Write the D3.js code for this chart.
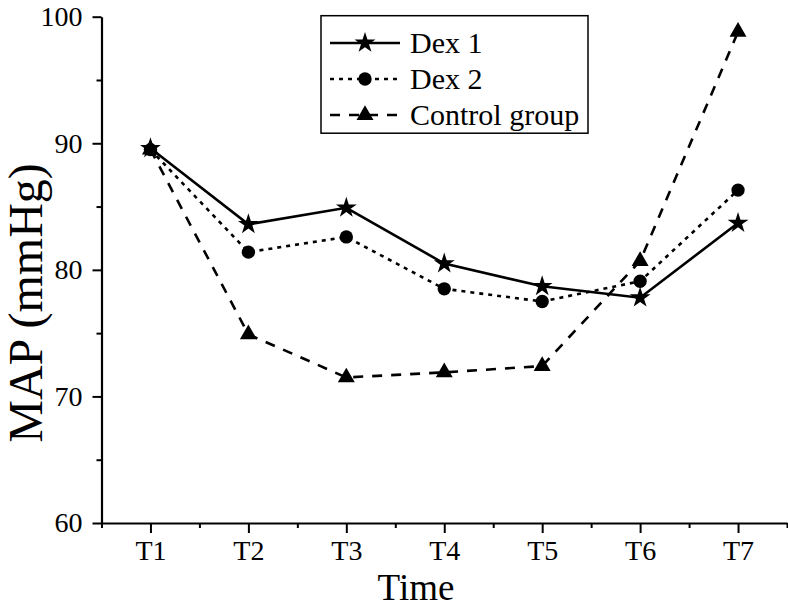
<!DOCTYPE html>
<html>
<head>
<meta charset="utf-8">
<script src="https://cdn.jsdelivr.net/npm/d3@7"></script>
<style>
html,body{margin:0;padding:0;background:#fff;}
svg{display:block;font-family:"Liberation Serif","Times New Roman",serif;}
</style>
</head>
<body>
<svg id="chart" width="788" height="611"></svg>
<script>
const categories = ["T1","T2","T3","T4","T5","T6","T7"];
const dex1 = [89.6, 83.6, 84.9, 80.5, 78.7, 77.8, 83.7];
const dex2 = [89.5, 81.4, 82.6, 78.5, 77.5, 79.1, 86.3];
const control = [89.5, 74.9, 71.5, 71.9, 72.4, 80.7, 98.8];
const yTicks = [60, 70, 80, 90, 100];
const yMinor = [65, 75, 85, 95];
const seriesNames = ["Dex 1", "Dex 2", "Control group"];

const svg = d3.select("#chart");
const x = d3.scaleLinear().domain([0.5, 7.5]).range([101.5, 787]);
const y = d3.scaleLinear().domain([60, 100]).range([523, 16.7]);

const styles = [
  {data: dex1, dash: null, sym: d3.symbolStar, size: 135},
  {data: dex2, dash: "4,5", sym: d3.symbolCircle, size: 140},
  {data: control, dash: "10,9", sym: d3.symbolTriangle, size: 125}
];

// axes
const gy = svg.append("g").attr("transform", `translate(${x(0.5)},0)`);
gy.call(d3.axisLeft(y).tickValues(yTicks).tickSize(9).tickSizeOuter(0).tickPadding(10).tickFormat(d3.format("d")));
const gyMinor = svg.append("g").attr("transform", `translate(${x(0.5)},0)`);
gyMinor.call(d3.axisLeft(y).tickValues(yMinor).tickSize(5).tickSizeOuter(0).tickFormat(""));
gyMinor.select(".domain").remove();

const gx = svg.append("g").attr("transform", `translate(0,${y(60)})`);
gx.call(d3.axisBottom(x).tickValues(d3.range(1, 8)).tickSize(10).tickSizeOuter(0).tickPadding(7).tickFormat((d,i)=>categories[i]));
const gxMinor = svg.append("g").attr("transform", `translate(0,${y(60)})`);
gxMinor.call(d3.axisBottom(x).tickValues(d3.range(0.5, 8, 1)).tickSize(5).tickSizeOuter(0).tickFormat(""));
gxMinor.select(".domain").remove();

svg.selectAll(".domain").attr("stroke", "#000").attr("stroke-width", 2.2);
svg.selectAll(".tick line").attr("stroke", "#000").attr("stroke-width", 2);
gy.selectAll(".tick text").attr("font-size", 28).attr("fill", "#000").attr("font-family", "Liberation Serif");
gx.selectAll(".tick text").attr("font-size", 28).attr("fill", "#000").attr("font-family", "Liberation Serif");

// titles
svg.append("text").attr("x", 416).attr("y", 600).attr("text-anchor", "middle")
  .attr("font-size", 37).text("Time");
svg.append("text").attr("transform", "translate(42,303) rotate(-90)").attr("text-anchor", "middle")
  .attr("font-size", 48).text("MAP (mmHg)");

// lines
const line = d3.line().x((d,i)=>x(i+1)).y(d=>y(d));
styles.forEach(s => {
  svg.append("path").datum(s.data).attr("d", line).attr("fill", "none")
    .attr("stroke", "#000").attr("stroke-width", 2.6)
    .attr("stroke-dasharray", s.dash);
});
styles.forEach(s => {
  svg.append("g").selectAll("path").data(s.data).join("path")
    .attr("transform", (d,i)=>`translate(${x(i+1)},${y(d)})`)
    .attr("d", d3.symbol().type(s.sym).size(s.size)).attr("fill", "#000");
});

// legend
const lg = svg.append("g");
lg.append("rect").attr("x", 321).attr("y", 15.7).attr("width", 267).attr("height", 117.5)
  .attr("fill", "#fff").attr("stroke", "#000").attr("stroke-width", 1.5);
const rowsY = [43, 79, 115];
styles.forEach((s, k) => {
  lg.append("line").attr("x1", 330).attr("x2", 400).attr("y1", rowsY[k]).attr("y2", rowsY[k])
    .attr("stroke", "#000").attr("stroke-width", 2.6).attr("stroke-dasharray", s.dash);
  lg.append("path").attr("transform", `translate(365,${rowsY[k]})`)
    .attr("d", d3.symbol().type(s.sym).size(s.size)).attr("fill", "#000");
  lg.append("text").attr("x", 410).attr("y", rowsY[k] + 10).attr("font-size", 30).text(seriesNames[k]);
});
</script>
</body>
</html>
